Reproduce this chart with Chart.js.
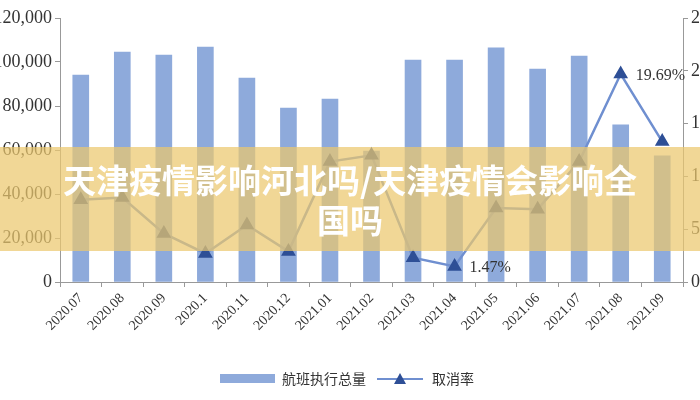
<!DOCTYPE html>
<html><head><meta charset="utf-8">
<script src="https://cdn.jsdelivr.net/npm/chart.js@4/dist/chart.umd.min.js"></script>
<style>
body{margin:0;width:700px;height:400px;overflow:hidden;background:#fff;position:relative}
#wrap{position:absolute;left:-40px;top:0;width:740px;height:400px}
#banner{position:absolute;left:0;top:147px;width:700px;height:104px;background:rgba(236,200,110,0.72);color:#fff;font:bold 33px "Noto Sans CJK SC";text-align:center;line-height:40px;padding-top:12px;box-sizing:border-box}
</style></head><body>
<div id="wrap"><canvas id="c" width="740" height="400"></canvas></div>
<div id="banner">天津疫情影响河北吗/天津疫情会影响全<br>国吗</div>
<script>
const categories=["2020.07","2020.08","2020.09","2020.1","2020.11","2020.12","2021.01","2021.02","2021.03","2021.04","2021.05","2021.06","2021.07","2021.08","2021.09"];
const flights=[94100,104500,103200,106800,92700,79100,83200,59500,100900,100900,106400,96800,102700,71400,57300];
const cancelRate=[7.8,8.0,4.6,2.7,5.4,2.9,11.4,12.0,2.3,1.47,7.0,6.9,11.4,19.69,13.3];
const leftTicks=["0","20,000","40,000","60,000","80,000","100,000","120,000"];
const labelIdx={9:"1.47%",13:"19.69%"};
const font={family:"Liberation Serif",size:18};
const extra={id:'extra',afterDatasetsDraw(ch){const m=ch.getDatasetMeta(1),c=ch.ctx;c.save();c.font="16px 'Liberation Serif'";c.fillStyle="#333";
for(const i in labelIdx){const p=m.data[i];c.fillText(labelIdx[i],p.x+15,p.y+6);}
const o=40;
c.fillStyle='#8eaadb';c.fillRect(o+220,374,55,9);
c.font="14px 'Noto Sans CJK SC'";c.fillStyle='#333';c.textBaseline='middle';c.fillText('航班执行总量',o+282,379);
c.strokeStyle='#6f8fd0';c.lineWidth=2;c.beginPath();c.moveTo(o+377,379);c.lineTo(o+423,379);c.stroke();
c.fillStyle='#2e4f96';c.beginPath();c.moveTo(o+400,373);c.lineTo(o+406,384);c.lineTo(o+394,384);c.closePath();c.fill();
c.fillStyle='#333';c.fillText('取消率',o+432,379);
c.restore();}};
new Chart(document.getElementById('c'),{
data:{labels:categories,datasets:[
{type:'bar',label:'航班执行总量',data:flights,backgroundColor:'#8eaadb',barThickness:16,yAxisID:'y',order:2},
{type:'line',label:'取消率',data:cancelRate,borderColor:'#6f8fd0',borderWidth:2.5,pointStyle:'triangle',pointRadius:6,pointBackgroundColor:'#2e4f96',pointBorderColor:'#2e4f96',yAxisID:'y1',order:1}]},
options:{responsive:false,animation:false,
layout:{padding:{left:0,right:0,top:18,bottom:38}},
plugins:{legend:{display:false},tooltip:{enabled:false}},
scales:{
x:{afterFit(a){a.height=80;},grid:{display:true,drawOnChartArea:false,tickLength:5,color:'#999'},border:{color:'#999'},ticks:{font:{family:"Liberation Serif",size:14},color:'#333',maxRotation:45,minRotation:45}},
y:{afterFit(a){a.width=100;},min:0,max:120000,afterBuildTicks(a){a.ticks=leftTicks.map((t,i)=>({value:i*20000}));},ticks:{font,color:'#333',callback:(v,i)=>leftTicks[i]},grid:{drawOnChartArea:false,tickLength:5,color:'#999'},border:{color:'#999'}},
y1:{afterFit(a){a.width=17;},position:'right',min:0,max:25,ticks:{stepSize:5,font,color:'#333',callback:v=>v+'%'},grid:{drawOnChartArea:false,tickLength:5,color:'#999'},border:{color:'#999'}}}},
plugins:[extra]});
</script></body></html>
